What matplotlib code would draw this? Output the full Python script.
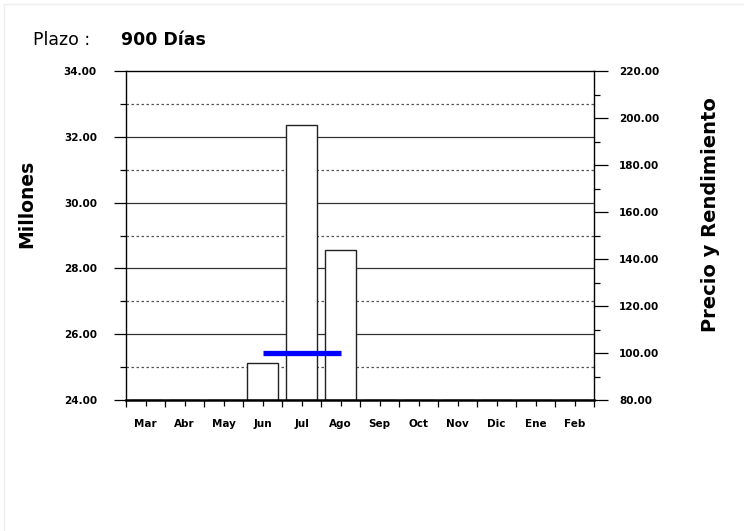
import matplotlib
matplotlib.use("Agg")
import matplotlib.pyplot as plt
from matplotlib.ticker import MultipleLocator, FormatStrFormatter, FixedLocator, NullFormatter
from matplotlib.lines import Line2D

plt.rcParams['font.family'] = ['DejaVu Sans']

# data
months = ['Mar', 'Abr', 'May', 'Jun', 'Jul', 'Ago', 'Sep', 'Oct', 'Nov', 'Dic', 'Ene', 'Feb']
volumen = [0, 0, 0, 25.12, 32.36, 28.56, 0, 0, 0, 0, 0, 0]   # Millones
precio_meses = ['Jun', 'Jul', 'Ago']
precio = [100.1, 100.1, 100.1]
plazo = '900 Días'

fig = plt.figure(figsize=(7.44, 5.31), dpi=100)
ax = fig.add_axes([126 / 744, 1 - 400 / 531, 468 / 744, 329 / 531])

x = list(range(len(months)))
idx = {m: i for i, m in enumerate(months)}

# grid: solid at major, dotted at minor
for v in [26, 28, 30, 32]:
    ax.axhline(v, color='#333333', lw=0.9, zorder=1)
for v in [25, 27, 29, 31, 33]:
    ax.axhline(v, color='#555555', lw=0.9, ls=(0, (2, 2)), zorder=1)

heights = [v - 24 if v > 0 else 0 for v in volumen]
ax.bar(x, heights, bottom=24, width=0.8, color='white', edgecolor='#222222',
       linewidth=1.0, zorder=2)

ax.set_xlim(-0.5, len(months) - 0.5)
ax.set_ylim(24, 34)
ax.yaxis.set_major_locator(MultipleLocator(2))
ax.yaxis.set_minor_locator(MultipleLocator(1))
ax.yaxis.set_major_formatter(FormatStrFormatter('%.2f'))
ax.xaxis.set_major_locator(FixedLocator([i - 0.5 for i in range(len(months) + 1)]))
ax.xaxis.set_major_formatter(NullFormatter())
ax.set_xticks(x, minor=True)
ax.set_xticklabels(months, minor=True)

ax.tick_params(axis='y', which='major', length=9, width=0.9, pad=12, labelsize=7.5)
ax.tick_params(axis='y', which='minor', length=4, width=0.9)
ax.tick_params(axis='x', which='major', length=5, width=0.9)
ax.tick_params(axis='x', which='minor', length=4, width=0.9, pad=10, labelsize=7.5)
for lab in ax.get_yticklabels() + ax.get_xticklabels(minor=True):
    lab.set_fontweight('bold')

ax.spines['bottom'].set_linewidth(1.8)
for s in ['left', 'top', 'right']:
    ax.spines[s].set_linewidth(1.0)

# right axis
ax2 = ax.twinx()
ax2.plot([idx[m] for m in precio_meses], precio, color='#0000ff', lw=3.8,
         solid_capstyle='butt', zorder=3)
ax2.set_ylim(80, 220)
ax2.yaxis.set_major_locator(MultipleLocator(20))
ax2.yaxis.set_minor_locator(MultipleLocator(10))
ax2.yaxis.set_major_formatter(FormatStrFormatter('%.2f'))
ax2.tick_params(axis='y', which='major', length=10, width=0.9, pad=8, labelsize=7.5)
ax2.tick_params(axis='y', which='minor', length=4, width=0.9)
for lab in ax2.get_yticklabels():
    lab.set_fontweight('bold')
for s in ax2.spines.values():
    s.set_visible(False)

# axis titles placed directly
fig.text(27 / 744, 1 - 204 / 531, 'Millones', fontsize=13.5, fontweight='bold',
         rotation=90, ha='center', va='center')
fig.text(711 / 744, 1 - 215 / 531, 'Precio y Rendimiento', fontsize=14,
         fontweight='bold', rotation=90, ha='center', va='center')

fig.text(33 / 744, 1 - 40 / 531, 'Plazo :', fontsize=12.5, va='center', ha='left')
fig.text(121 / 744, 1 - 40 / 531, plazo, fontsize=12.5, fontweight='bold',
         va='center', ha='left')

# faint chart border
fig.add_artist(Line2D([4 / 744, 1], [1 - 4 / 531, 1 - 4 / 531], color='#eeeeee', lw=1))
fig.add_artist(Line2D([4 / 744, 4 / 744], [0, 1 - 4 / 531], color='#eeeeee', lw=1))

fig.savefig('out.png', dpi=100)
